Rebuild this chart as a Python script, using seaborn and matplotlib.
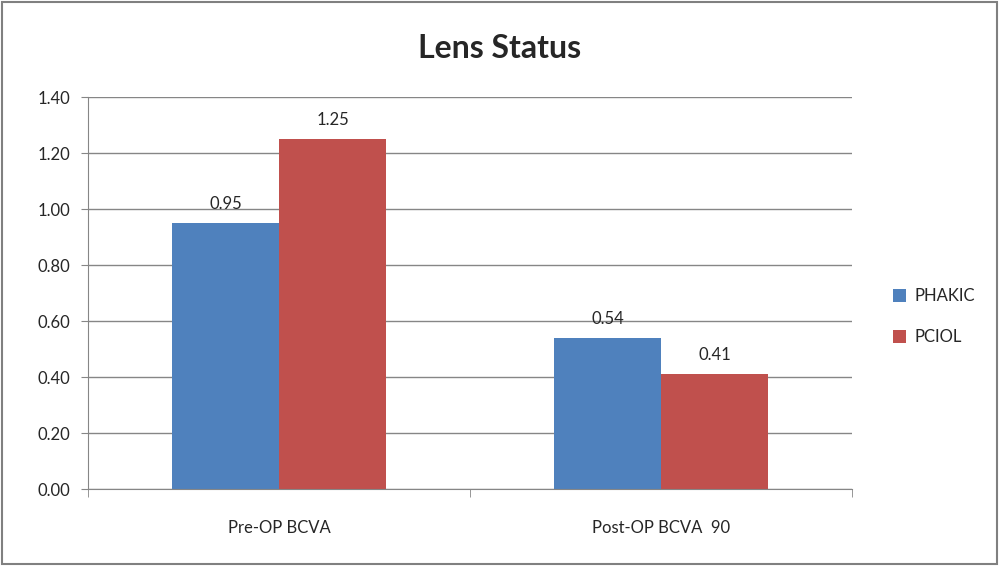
import numpy as np
import pandas as pd
import matplotlib
matplotlib.use("Agg")
import matplotlib.pyplot as plt
import seaborn as sns
from matplotlib.patches import Rectangle

# data
stages = ["Pre-OP BCVA", "Post-OP BCVA  90"]
lens = ["PHAKIC", "PCIOL"]
phakic = [0.95, 0.54]
pciol = [1.25, 0.41]

df = pd.DataFrame({
    "stage": stages * 2,
    "lens": [lens[0]] * 2 + [lens[1]] * 2,
    "value": phakic + pciol,
})

sns.set_style("white")
plt.rcParams["font.family"] = ["Lato", "DejaVu Sans"]

fig = plt.figure(figsize=(10, 5.66), dpi=100)
ax = fig.add_axes([0.088, 0.136, 0.764, 0.6925])

palette = {"PHAKIC": "#4F81BD", "PCIOL": "#C0504D"}
sns.barplot(data=df, x="stage", y="value", hue="lens", palette=palette,
            width=0.56, gap=0, saturation=1, linewidth=0, ax=ax, legend=True)

for c in ax.containers:
    ax.bar_label(c, fmt="%.2f", padding=8, fontsize=12)

ax.set_ylim(0, 1.4)
ax.set_xlim(-0.5, 1.5)
ax.set_yticks(np.arange(0, 1.41, 0.2))
ax.set_yticklabels([f"{v:.2f}" for v in np.arange(0, 1.41, 0.2)], fontsize=12)
ax.yaxis.grid(True, color="#868686", linewidth=1)
ax.set_axisbelow(True)
ax.set_xlabel("")
ax.set_ylabel("")
ax.tick_params(axis="x", length=0, labelsize=12, pad=22)
ax.tick_params(axis="y", length=5, color="#868686", pad=8)
ax.yaxis.set_ticks_position("left")
ax.set_xticks([-0.5, 0.5, 1.5], minor=True)
ax.tick_params(axis="x", which="minor", length=6, color="#868686", direction="out")
ax.xaxis.set_ticks_position("bottom")
for s in ["top", "right"]:
    ax.spines[s].set_visible(False)
for s in ["left", "bottom"]:
    ax.spines[s].set_color("#868686")

leg = ax.legend(loc="center left", bbox_to_anchor=(0.878, 0.44), bbox_transform=fig.transFigure,
                frameon=False, fontsize=12, handlelength=0.8, handleheight=0.8,
                handletextpad=0.5, labelspacing=1.5)

fig.suptitle("Lens Status", fontsize=23, fontweight="bold", y=0.94)
fig.patches.append(Rectangle((0.002, 0.003), 0.995, 0.994, transform=fig.transFigure,
                             fill=False, edgecolor="#808080", linewidth=1.5))

fig.savefig("out.png", dpi=100)
